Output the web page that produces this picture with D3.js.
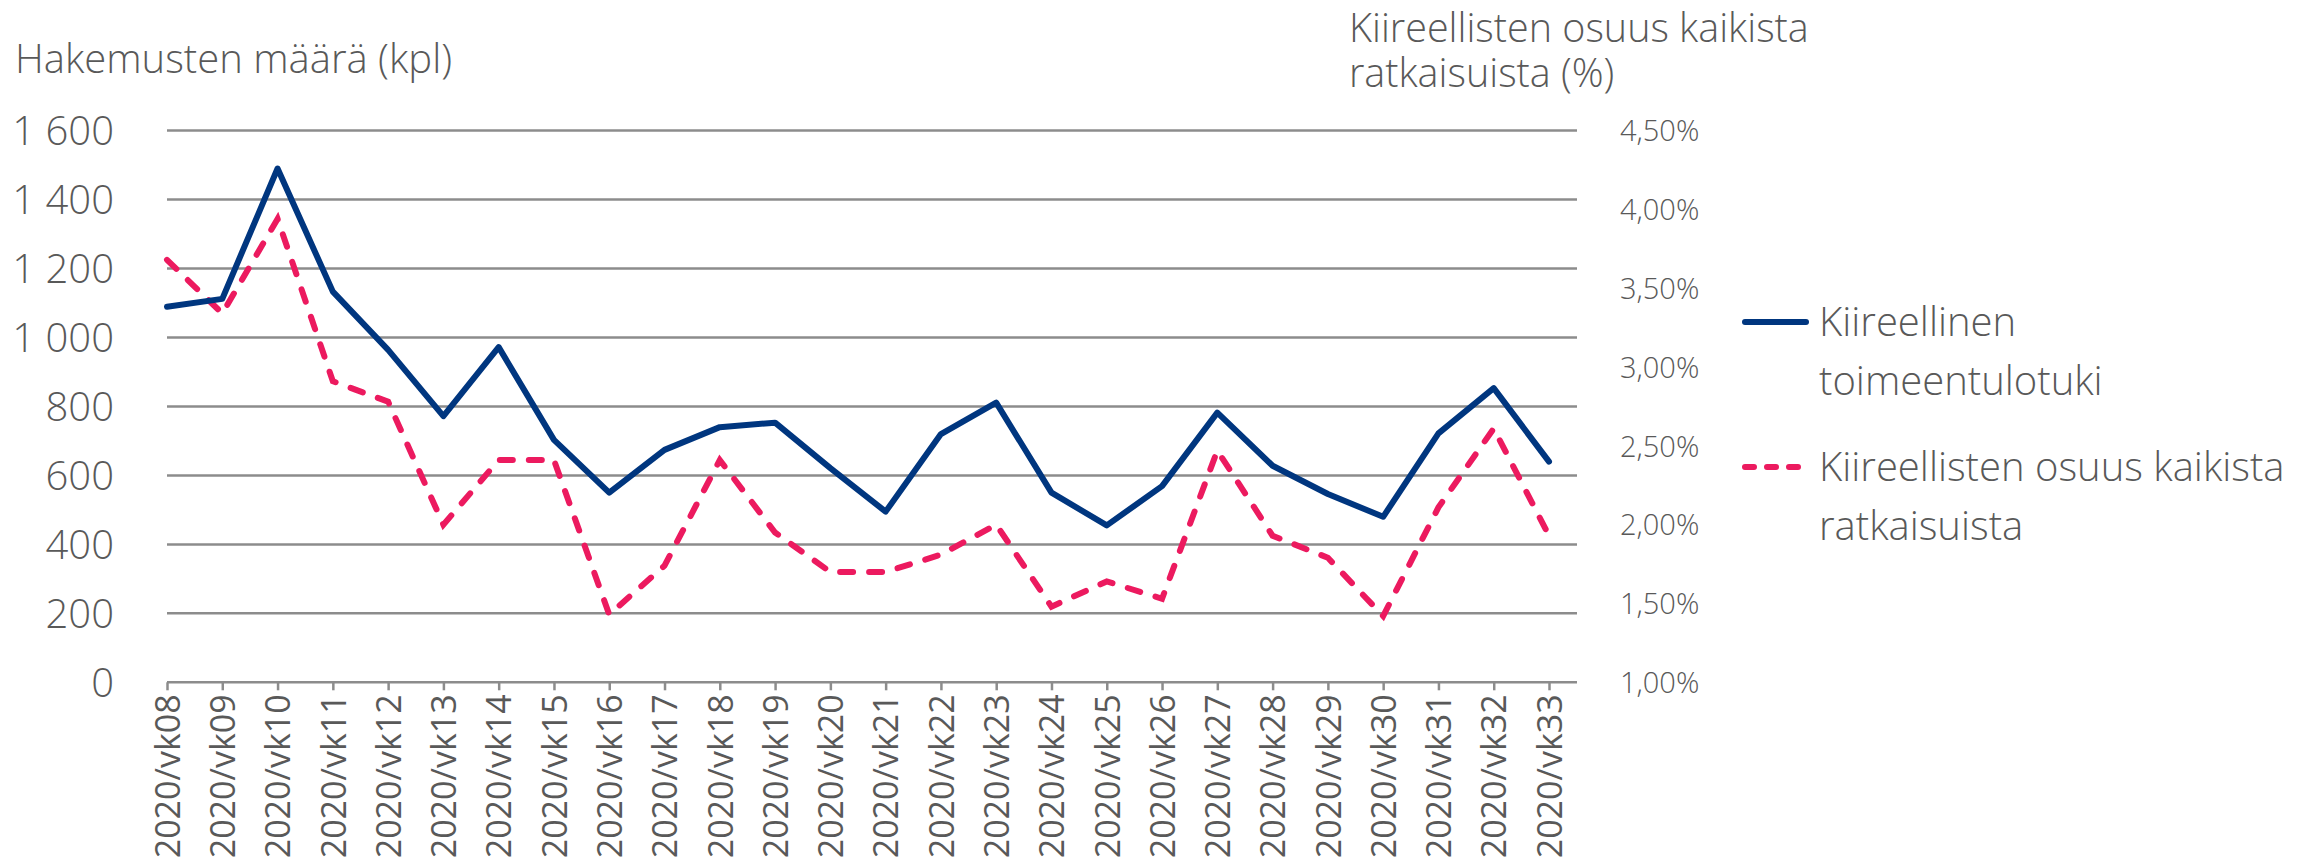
<!DOCTYPE html>
<html>
<head>
<meta charset="utf-8">
<title>Kiireellinen toimeentulotuki</title>
<script src="https://cdn.jsdelivr.net/npm/d3@7/dist/d3.min.js"></script>
<style>
    body { margin: 0; background: #fff; }
    svg { display: block; font-family: "Open Sans", "Noto Sans", sans-serif; }
    .grid line { stroke: #8c8c8c; stroke-width: 2.5; }
    text { fill: #595959; }
</style>
</head>
<body>
<svg id="chart"></svg>
<script>
    // data
    const weeks = ["2020/vk08", "2020/vk09", "2020/vk10", "2020/vk11", "2020/vk12", "2020/vk13",
        "2020/vk14", "2020/vk15", "2020/vk16", "2020/vk17", "2020/vk18", "2020/vk19", "2020/vk20",
        "2020/vk21", "2020/vk22", "2020/vk23", "2020/vk24", "2020/vk25", "2020/vk26", "2020/vk27",
        "2020/vk28", "2020/vk29", "2020/vk30", "2020/vk31", "2020/vk32", "2020/vk33"];
    const hakemukset = [1089, 1112, 1490, 1133, 964, 772, 972, 703, 550, 674, 740, 753, 621,
        495, 720, 811, 550, 455, 569, 782, 628, 546, 480, 722, 853, 640];
    const osuus = [3.68, 3.34, 3.94, 2.91, 2.78, 2.00, 2.41, 2.41, 1.43, 1.74, 2.41, 1.95, 1.70,
        1.70, 1.81, 2.00, 1.48, 1.64, 1.53, 2.47, 1.93, 1.79, 1.42, 2.11, 2.61, 1.93];
    const leftTicks = [0, 200, 400, 600, 800, 1000, 1200, 1400, 1600];
    const rightTicks = [1.0, 1.5, 2.0, 2.5, 3.0, 3.5, 4.0, 4.5];
    const leftTitle = "Hakemusten määrä (kpl)";
    const rightTitle = ["Kiireellisten osuus kaikista", "ratkaisuista (%)"];
    const legendItems = [
        {lines: ["Kiireellinen", "toimeentulotuki"], color: "#00367f", dash: null},
        {lines: ["Kiireellisten osuus kaikista", "ratkaisuista"], color: "#ec1a5f", dash: "13,16"}
    ];

    const W = 2315, H = 866;
    const svg = d3.select("#chart").attr("width", W).attr("height", H);

    const fi = d3.formatLocale({decimal: ",", thousands: "\u00a0", grouping: [3], currency: ["", " €"]});

    let x = d3.scalePoint().domain(weeks).range([167, 1549]);
    let y = d3.scaleLinear().domain([0, 1600]).range([682.3, 130.6]);
    let y2 = d3.scaleLinear().domain([1.0, 4.5]).range([682.3, 130.6]);

    // gridlines
    svg.append("g").attr("class", "grid")
        .selectAll("line")
        .data(leftTicks.slice(1))
        .enter()
        .append("line")
        .attr("x1", 167).attr("x2", 1577)
        .attr("y1", d => y(d)).attr("y2", d => y(d));

    // x axis
    let gx = svg.append("g")
        .attr("transform", "translate(0," + y(0) + ")")
        .call(d3.axisBottom(x).tickSize(8).tickSizeOuter(0));
    gx.select(".domain").attr("d", "M167,0H1577").attr("stroke", "#8c8c8c").attr("stroke-width", 2.5);
    gx.selectAll(".tick line").attr("stroke", "#8c8c8c").attr("stroke-width", 2.5);
    gx.selectAll(".tick text")
        .attr("transform", "rotate(-90)")
        .attr("text-anchor", "end")
        .attr("x", -12).attr("y", 0).attr("dy", "0.36em")
        .style("font-size", "34px")
        .style("font-family", "'Open Sans', sans-serif")
        .attr("fill", "#595959");

    // left axis
    let gy = svg.append("g")
        .attr("transform", "translate(114,0)")
        .call(d3.axisLeft(y).tickValues(leftTicks).tickFormat(fi.format(",")).tickSize(0));
    gy.select(".domain").remove();
    gy.selectAll(".tick text")
        .attr("x", 0).attr("dy", "0.35em")
        .style("font-size", "40px")
        .style("font-family", "'Open Sans', sans-serif")
        .style("font-weight", 300)
        .attr("fill", "#595959");

    // right axis
    let gy2 = svg.append("g")
        .attr("transform", "translate(1620,0)")
        .call(d3.axisRight(y2).tickValues(rightTicks).tickFormat(d => fi.format(".2f")(d) + "%").tickSize(0));
    gy2.select(".domain").remove();
    gy2.selectAll(".tick text")
        .attr("x", 0).attr("dy", "0.35em")
        .style("font-size", "29px")
        .style("font-family", "'Open Sans', sans-serif")
        .style("font-weight", 300)
        .attr("fill", "#595959");

    // lines
    let line1 = d3.line().x((d, i) => x(weeks[i])).y(d => y(d));
    let line2 = d3.line().x((d, i) => x(weeks[i])).y(d => y2(d));

    svg.append("path")
        .datum(osuus)
        .attr("d", line2)
        .attr("fill", "none")
        .attr("stroke", legendItems[1].color)
        .attr("stroke-width", 6)
        .attr("stroke-linecap", "round")
        .attr("stroke-dasharray", legendItems[1].dash);

    svg.append("path")
        .datum(hakemukset)
        .attr("d", line1)
        .attr("fill", "none")
        .attr("stroke", legendItems[0].color)
        .attr("stroke-width", 6)
        .attr("stroke-linejoin", "round")
        .attr("stroke-linecap", "round");

    // titles
    svg.append("text")
        .attr("x", 15).attr("y", 73)
        .style("font-size", "40px").style("font-weight", 300)
        .text(leftTitle);

    svg.selectAll(".rtitle")
        .data(rightTitle)
        .enter()
        .append("text")
        .attr("class", "rtitle")
        .attr("x", 1349).attr("y", (d, i) => 42 + i * 45)
        .style("font-size", "39.5px").style("font-weight", 300)
        .text(d => d);

    // legend
    let lg = svg.selectAll(".legend")
        .data(legendItems)
        .enter()
        .append("g")
        .attr("class", "legend")
        .attr("transform", (d, i) => "translate(1742," + (322 + i * 145) + ")");

    lg.append("line")
        .attr("x1", 3).attr("x2", 64)
        .attr("stroke", d => d.color)
        .attr("stroke-width", 6)
        .attr("stroke-linecap", "round")
        .attr("stroke-dasharray", d => d.dash ? "9,13" : null);

    lg.selectAll("text")
        .data(d => d.lines)
        .enter()
        .append("text")
        .attr("x", 77)
        .attr("y", (d, i) => i * 59)
        .attr("dy", "0.35em")
        .style("font-size", "40px").style("font-weight", 300)
        .text(d => d);
</script>
</body>
</html>
